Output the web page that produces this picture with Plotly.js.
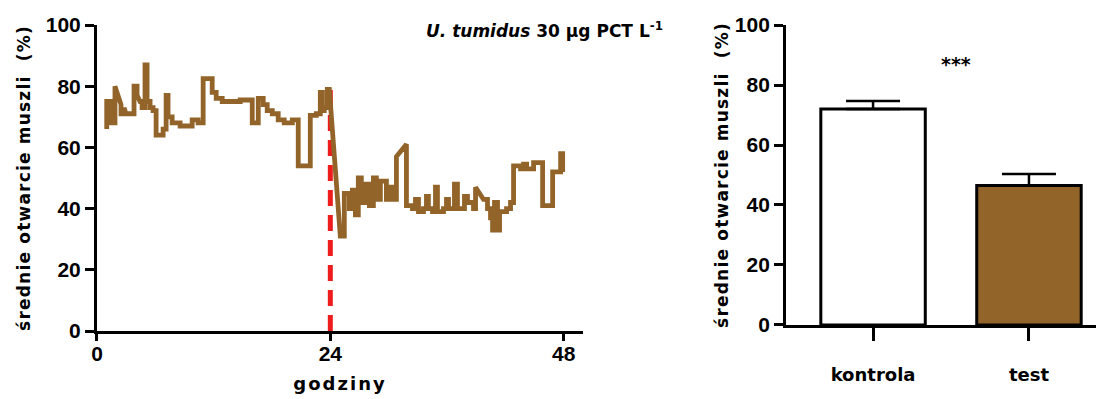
<!DOCTYPE html>
<html>
<head>
<meta charset="utf-8">
<script src="https://cdn.plot.ly/plotly-3.0.1.min.js"></script>
<style>
html,body{margin:0;padding:0;background:#fff;}
#chart{width:1096px;height:399px;}
text.xtitle{letter-spacing:2px;}
text.ytitle, text.y2title{letter-spacing:1.2px;}
</style>
</head>
<body>
<div id="chart"></div>
<script>
// time series (hours, mean shell opening %)
const hours = [
 1.0,1.0,1.44,1.44,1.85,1.85,2.16,2.47,2.47,2.78,2.78,2.99,3.40,3.81,3.81,4.12,4.12,4.43,4.64,4.64,4.94,4.94,5.15,5.15,5.46,5.46,5.77,5.77,6.08,6.08,6.80,6.80,7.11,7.11,7.31,7.31,7.73,7.73,8.55,8.55,9.79,9.79,10.40,10.40,10.92,10.92,11.85,11.85,12.26,12.26,12.88,12.88,14.73,14.73,15.97,15.97,16.59,16.59,17.10,17.10,17.51,17.51,18.03,18.03,18.64,18.64,19.26,19.26,20.09,20.09,20.70,20.70,21.94,21.94,22.56,22.56,22.97,22.97,23.18,23.18,23.38,23.38,23.69,23.69,23.90,
 25.03,25.44,25.44,25.96,25.96,26.27,26.27,26.58,26.58,26.88,26.88,27.19,27.19,27.61,27.61,28.02,28.02,28.43,28.43,28.74,28.74,29.15,29.15,29.77,29.77,30.08,30.08,30.39,30.39,30.80,30.80,31.83,31.83,32.45,32.45,32.76,32.76,33.07,33.07,33.58,33.58,33.89,33.89,34.09,34.09,34.51,34.51,34.82,34.82,35.02,35.02,35.64,35.64,35.95,35.95,36.16,36.16,36.77,36.77,37.08,37.08,37.80,37.80,38.11,38.11,38.73,38.73,38.94,38.94,39.76,40.17,40.17,40.48,40.48,40.69,40.69,40.89,40.89,41.20,41.20,41.41,41.41,42.13,42.13,42.54,42.54,42.85,42.85,43.57,43.57,43.88,43.88,44.19,44.19,44.91,44.91,45.84,45.84,46.87,46.87,47.69,47.69,47.90,47.90
];
const opening = [
 66,75,75,68,68,80,77,74,71,71,73,71,71,71,80,80,77,75,75,73,73,87,87,75,75,73,73,72,72,64,64,66,66,77,77,70,70,68,68,67,67,69,69,68,68,82.5,82.5,78,78,76,76,75,75,75.5,75.5,68,68,76,76,74,74,72,72,71,71,69,69,68,68,69,69,54,54,70.5,70.5,71,71,78,78,72,72,73,73,79,79,
 31,31,45,45,40,40,46,46,38,38,50,50,42,42,48,48,41,41,50,50,43,43,49,49,43,43,47,47,43,43,57,61,41,41,40,40,43,43,39,39,40,40,44,44,40,40,39,39,47,47,39,39,40,40,43,43,40,40,48,48,40,40,44,44,42,42,40,40,47,43,43,40,40,37,37,33,33,42,42,33,33,39,39,40,40,42,42,54,54,53,53,54.5,54.5,53,53,55,55,41,41,52,52,58,58,52
];
// exposure marker at 24 h
const markerHours = [24, 24];
const markerLevel = [0, 79];
// bar summary
const groups = ['kontrola', 'test'];
const means = [72, 46.5];
const sem = [2.7, 3.8];
const zeros = [0, 0];
const xTicks = [0, 24, 48];
const yTicks = [0, 20, 40, 60, 80, 100];

const brown = '#93642a';
const font = {family: 'DejaVu Sans, Liberation Sans, Arial, sans-serif', color: '#000'};
const numFont = {family: 'Liberation Sans, Arial, sans-serif', color: '#000', size: 21, weight: 'bold'};

const traces = [
 {x: markerHours, y: markerLevel, type: 'scatter', mode: 'lines', xaxis: 'x', yaxis: 'y',
  line: {color: '#ee1c1c', width: 5, dash: '16px,9px'}, hoverinfo: 'skip'},
 {x: hours, y: opening, type: 'scatter', mode: 'lines', xaxis: 'x', yaxis: 'y',
  line: {color: brown, width: 4.8, shape: 'linear'}},
 {x: groups, y: means, type: 'bar', xaxis: 'x2', yaxis: 'y2', width: 0.67,
  marker: {color: ['#ffffff', brown], line: {color: '#000', width: 3}},
  error_y: {type: 'data', symmetric: false, array: sem, arrayminus: zeros, color: '#000', thickness: 2.5, width: 27}}
];

const axisCommon = {showgrid: false, zeroline: false, showline: true, linecolor: '#000', linewidth: 3,
  ticks: 'outside', tickcolor: '#000', tickwidth: 3, ticklen: 9, tickfont: numFont};

const layout = {
  width: 1096, height: 399, margin: {l: 0, r: 0, t: 0, b: 0},
  paper_bgcolor: '#fff', plot_bgcolor: '#fff', showlegend: false,
  xaxis: Object.assign({}, axisCommon, {domain: [0.0885, 0.532], range: [0, 50], tickvals: xTicks,
     ticklen: 7, ticklabelstandoff: -5,
     title: {text: '<b>godziny</b>', font: Object.assign({size: 18}, font), standoff: 14}}),
  yaxis: Object.assign({}, axisCommon, {domain: [0.1704, 0.9373], range: [0, 100], tickvals: yTicks,
     title: {text: '<b>średnie otwarcie muszli  (%)</b>', font: Object.assign({size: 17}, font), standoff: 11}}),
  xaxis2: Object.assign({}, axisCommon, {domain: [0.7172, 1.0], range: [-0.558, 1.43], anchor: 'y2',
     type: 'category', ticklen: 13, ticklabelstandoff: 18, tickfont: Object.assign({size: 18, weight: 'bold'}, font)}),
  yaxis2: Object.assign({}, axisCommon, {domain: [0.1855, 0.9373], range: [0, 100], tickvals: yTicks, anchor: 'x2',
     title: {text: '<b>średnie otwarcie muszli  (%)</b>', font: Object.assign({size: 17}, font), standoff: 2}}),
  annotations: [
    {xref: 'paper', yref: 'paper', x: 0.607, y: 0.925, xanchor: 'right', yanchor: 'middle', showarrow: false,
     text: '<b><i>U. tumidus</i> 30 µg PCT L<sup>-1</sup></b>', font: Object.assign({size: 17}, font)},
    {xref: 'x2', yref: 'y2', x: 0.53, y: 87, showarrow: false, text: '<b>***</b>',
     font: Object.assign({size: 19}, font)}
  ]
};

Plotly.newPlot('chart', traces, layout, {displayModeBar: false, staticPlot: true});
</script>
</body>
</html>
